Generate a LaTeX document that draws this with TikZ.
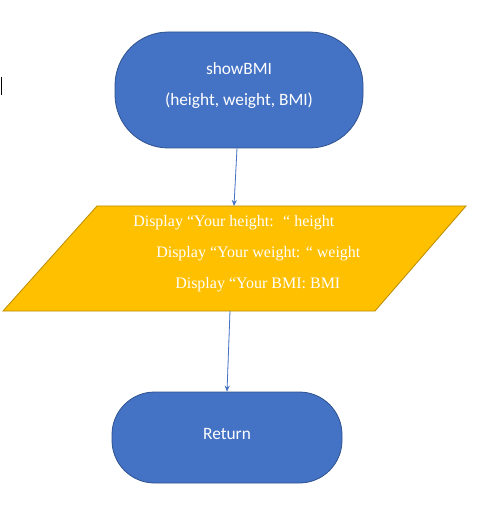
\documentclass[tikz,border=0pt]{standalone}
\usepackage{fontspec}
\setmainfont{Liberation Serif}
\newfontfamily\calibri{Carlito}
\usetikzlibrary{shapes.geometric, arrows, arrows.meta, calc}
\definecolor{termBlue}{HTML}{4472C4}
\definecolor{termEdge}{HTML}{2F528F}
\definecolor{ioGold}{HTML}{FFC000}
\definecolor{ioEdge}{HTML}{BC8C00}
\tikzstyle{terminal} = [rectangle, fill=termBlue, draw=termEdge, line width=0.6pt, text=white, font=\calibri\fontsize{13}{15}\selectfont]
\tikzstyle{io} = [fill=ioGold, draw=ioEdge, line width=0.6pt]
\tikzstyle{ioText} = [anchor=base west, inner sep=0pt, text=white, font=\fontsize{12}{14}\selectfont]
\tikzstyle{termText} = [anchor=base, inner sep=0pt, text=white, font=\calibri\fontsize{13}{15}\selectfont]
\tikzstyle{arrow} = [->, >={Stealth[length=4.5pt, width=3.8pt]}, line width=0.6pt, draw=termBlue, fill=termBlue]

\begin{document}
\begin{tikzpicture}[x=0.75pt, y=-0.75pt]
                    \useasboundingbox (0,0) rectangle (484,509);
                    \node (show) [terminal, rounded corners=40pt, minimum width=186pt, minimum height=87pt] at (239,90) {};
                    \node (showName) [termText] at (239,75) {showBMI};
                    \node (showArgs) [termText] at (239,106) {(height, weight, BMI)};
                    % display box
                    \coordinate (dispTL) at (97,206);
                    \coordinate (dispTR) at (466,206);
                    \coordinate (dispBR) at (375,311);
                    \coordinate (dispBL) at (3,311);
                    \draw [io] (dispTL) -- (dispTR) -- (dispBR) -- (dispBL) -- cycle;
                    \coordinate (dispIn) at (234,206);
                    \coordinate (dispOut) at (230,311);
                    \node (dispH) [ioText] at (133,227) {Display “Your height:~ “ height};
                    \node (dispW) [ioText] at (156,257) {Display “Your weight: “ weight};
                    \node (dispB) [ioText] at (175,288) {Display “Your BMI: BMI};
                    \node (ret) [terminal, rounded corners=32pt, text depth=6pt, minimum width=172.5pt, minimum height=68.25pt] at (227,437.5) {Return};
                    \draw [arrow] ([xshift=-1.5pt]show.south) -- (dispIn);
                    \draw [arrow] (dispOut) -- (ret.north);
                    \draw [line width=0.6pt] (1,77) -- (1,95);
                \end{tikzpicture}
\end{document}
